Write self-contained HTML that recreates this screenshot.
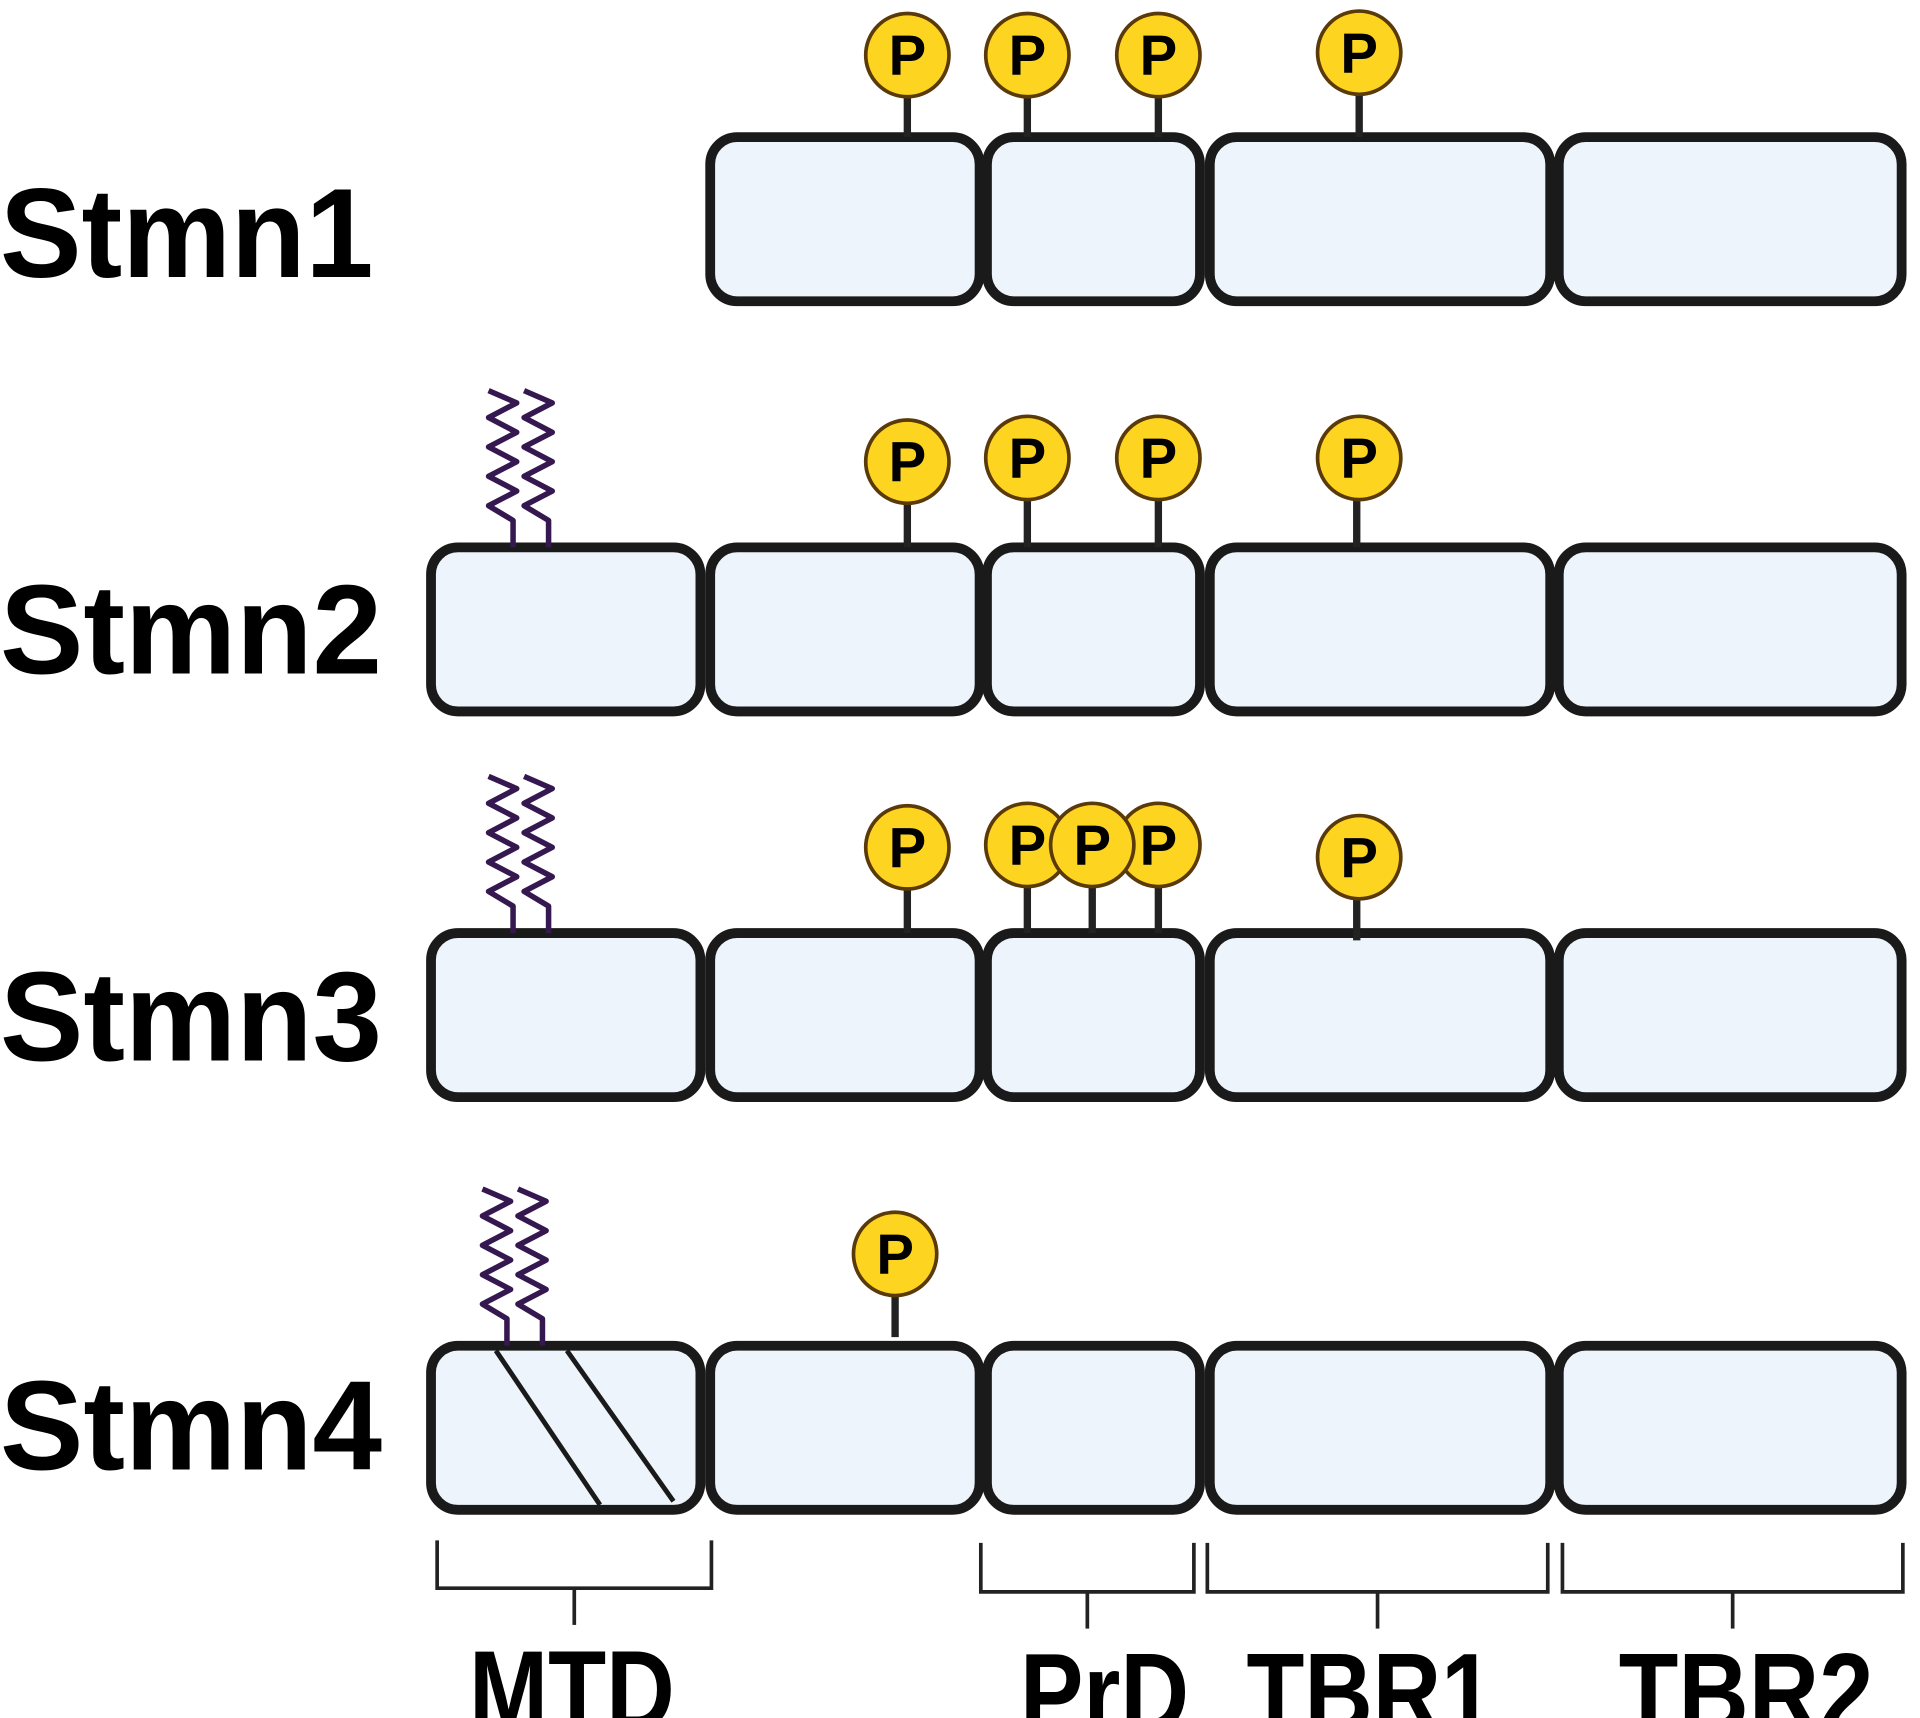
<!DOCTYPE html>
<html><head><meta charset="utf-8"><style>html,body{margin:0;padding:0;background:#fff}svg{display:block}</style></head>
<body>
<svg width="1920" height="1718" viewBox="0 0 1568 1403" xmlns="http://www.w3.org/2000/svg">
<defs>
<g id="p"><circle r="34" fill="#fdd520" stroke="#5a3a08" stroke-width="3"/><text y="16" text-anchor="middle" font-family="Liberation Sans, sans-serif" font-weight="bold" font-size="46" fill="#000">P</text></g>
<polyline id="z" fill="none" stroke="#35184f" stroke-width="4.5" stroke-linejoin="round" points="0,0 0,-22 -20,-34 3,-46 -20,-58 3,-70 -20,-82 3,-94 -20,-106 3,-118 -20,-128"/>
</defs>
<g font-family="Liberation Sans, sans-serif" font-weight="bold" font-size="104" fill="#000">
<text x="0" y="226" textLength="305" lengthAdjust="spacingAndGlyphs">Stmn1</text>
<text x="0" y="550" textLength="312" lengthAdjust="spacingAndGlyphs">Stmn2</text>
<text x="0" y="866" textLength="312" lengthAdjust="spacingAndGlyphs">Stmn3</text>
<text x="0" y="1200" textLength="312" lengthAdjust="spacingAndGlyphs">Stmn4</text>
</g>
<g fill="#edf4fc" stroke="#1a1a1a" stroke-width="8">
<rect x="580" y="112" width="220" height="134" rx="22"/>
<rect x="806" y="112" width="174" height="134" rx="22"/>
<rect x="988" y="112" width="278" height="134" rx="22"/>
<rect x="1273" y="112" width="280" height="134" rx="22"/>

<rect x="352" y="447" width="220" height="134" rx="22"/>
<rect x="580" y="447" width="220" height="134" rx="22"/>
<rect x="806" y="447" width="174" height="134" rx="22"/>
<rect x="988" y="447" width="278" height="134" rx="22"/>
<rect x="1273" y="447" width="280" height="134" rx="22"/>

<rect x="352" y="762" width="220" height="134" rx="22"/>
<rect x="580" y="762" width="220" height="134" rx="22"/>
<rect x="806" y="762" width="174" height="134" rx="22"/>
<rect x="988" y="762" width="278" height="134" rx="22"/>
<rect x="1273" y="762" width="280" height="134" rx="22"/>

<rect x="352" y="1099" width="220" height="134" rx="22"/>
<rect x="580" y="1099" width="220" height="134" rx="22"/>
<rect x="806" y="1099" width="174" height="134" rx="22"/>
<rect x="988" y="1099" width="278" height="134" rx="22"/>
<rect x="1273" y="1099" width="280" height="134" rx="22"/>
</g>
<g stroke="#1a1a1a" stroke-width="4">
<line x1="405" y1="1103" x2="490" y2="1229"/>
<line x1="463" y1="1103" x2="550" y2="1226"/>
</g>
<use href="#z" x="419" y="447"/><use href="#z" x="448" y="447"/>
<use href="#z" x="419" y="762"/><use href="#z" x="448" y="762"/>
<use href="#z" x="414" y="1099"/><use href="#z" x="443" y="1099"/>
<g stroke="#222" stroke-width="6">
<line x1="741" y1="75" x2="741" y2="112"/><line x1="839" y1="75" x2="839" y2="112"/><line x1="946" y1="75" x2="946" y2="112"/><line x1="1110" y1="73" x2="1110" y2="112"/>
<line x1="741" y1="407" x2="741" y2="447"/><line x1="839" y1="404" x2="839" y2="447"/><line x1="946" y1="404" x2="946" y2="447"/><line x1="1108" y1="404" x2="1108" y2="447"/>
<line x1="741" y1="722" x2="741" y2="762"/><line x1="839" y1="720" x2="839" y2="762"/><line x1="892" y1="720" x2="892" y2="762"/><line x1="946" y1="720" x2="946" y2="762"/><line x1="1108" y1="730" x2="1108" y2="768"/>
<line x1="731" y1="1054" x2="731" y2="1092"/>
</g>
<use href="#p" x="741" y="45"/><use href="#p" x="839" y="45"/><use href="#p" x="946" y="45"/><use href="#p" x="1110" y="43"/>
<use href="#p" x="741" y="377"/><use href="#p" x="839" y="374"/><use href="#p" x="946" y="374"/><use href="#p" x="1110" y="374"/>
<use href="#p" x="839" y="690"/><use href="#p" x="946" y="690"/><use href="#p" x="892" y="690"/><use href="#p" x="741" y="692"/><use href="#p" x="1110" y="700"/>
<use href="#p" x="731" y="1024"/>
<g fill="none" stroke="#222" stroke-width="3">
<polyline points="357,1258 357,1297 581,1297 581,1258"/><line x1="469" y1="1297" x2="469" y2="1327"/>
<polyline points="801,1260 801,1300 975,1300 975,1260"/><line x1="888" y1="1300" x2="888" y2="1330"/>
<polyline points="986,1260 986,1300 1264,1300 1264,1260"/><line x1="1125" y1="1300" x2="1125" y2="1330"/>
<polyline points="1276,1260 1276,1300 1554,1300 1554,1260"/><line x1="1415" y1="1300" x2="1415" y2="1330"/>
</g>
<g font-family="Liberation Sans, sans-serif" font-weight="bold" font-size="92" fill="#000">
<text x="383" y="1412" textLength="168" lengthAdjust="spacingAndGlyphs">MTD</text>
<text x="833" y="1414" textLength="138" lengthAdjust="spacingAndGlyphs">PrD</text>
<text x="1018" y="1414" textLength="202" lengthAdjust="spacingAndGlyphs">TBR1</text>
<text x="1322" y="1414" textLength="208" lengthAdjust="spacingAndGlyphs">TBR2</text>
</g>
</svg>
</body></html>
